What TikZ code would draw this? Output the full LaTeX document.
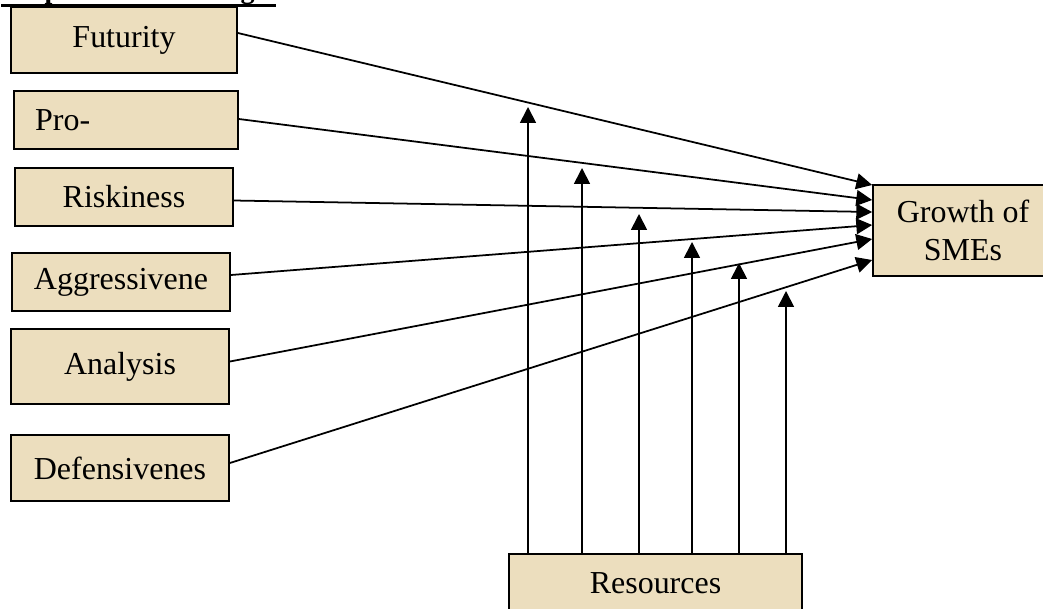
\documentclass[tikz,border=0pt]{standalone}
\usepackage{fontspec}
\setmainfont{Liberation Serif}
\usetikzlibrary{arrows.meta, positioning, calc}
\definecolor{parch}{RGB}{236,222,190}

\begin{document}
\begin{tikzpicture}[x=0.02cm, y=-0.02cm,
    every node/.style={font=\fontsize{18.2}{22}\selectfont},
    box/.style={draw=black, line width=1pt, fill=parch, inner sep=2pt},
    link/.style={-{Triangle[length=9pt, width=9pt]}, line width=1pt}
]
\clip (0,0) rectangle (1043,608);
% title, cut off at the top
\node[anchor=base west, inner sep=0pt, font=\fontsize{16}{18}\selectfont\bfseries] (title) at (1,-1) {Proposed Model: Fig 1};
\draw[line width=1.2pt] (title.south west) -- (title.south east);
% orientation factors on the left
\foreach \name/\txt/\x/\y/\w/\h in {fut/Futurity/124/40/226/66, risk/Riskiness/124/197/218/58, aggr/Aggressivene/121/282/218/58, anal/Analysis/120/366.5/218/75, def/Defensivenes/120/468/218/66}{
    \node[box, minimum width=\w*0.02cm, minimum height=\h*0.02cm] (\name) at (\x,\y) {\txt};
}
\node[box, inner xsep=12pt, text width=4.48cm-24pt, minimum height=58*0.02cm, align=left] (pro) at (126,120) {Pro-};
% outcome and moderator
\node[box, minimum width=180*0.02cm, minimum height=91*0.02cm, align=center] (growth) at (963,230.5) {Growth of\\SMEs};
\node[box, minimum width=293*0.02cm, minimum height=58*0.02cm] (res) at (655.5,583) {Resources};
% links into growth
\foreach \src/\sy/\dy in {fut/-7/-45.5, pro/-1/-30.5, risk/3.5/-18.5, aggr/-7/-5.5, anal/-5/8.5, def/-5/29.5}{
    \draw[link] ([shift={(0,\sy)}]\src.east) -- ([shift={(0,\dy)}]growth.west);
}
% links from resources
\foreach \n/\x/\y in {1/528/107, 2/582/168, 3/639/214, 4/692/242, 5/739/263, 6/786/291}{
    \coordinate (top\n) at (\x,\y);
    \draw[link] (res.north -| top\n) -- (top\n);
}
\end{tikzpicture}
\end{document}
